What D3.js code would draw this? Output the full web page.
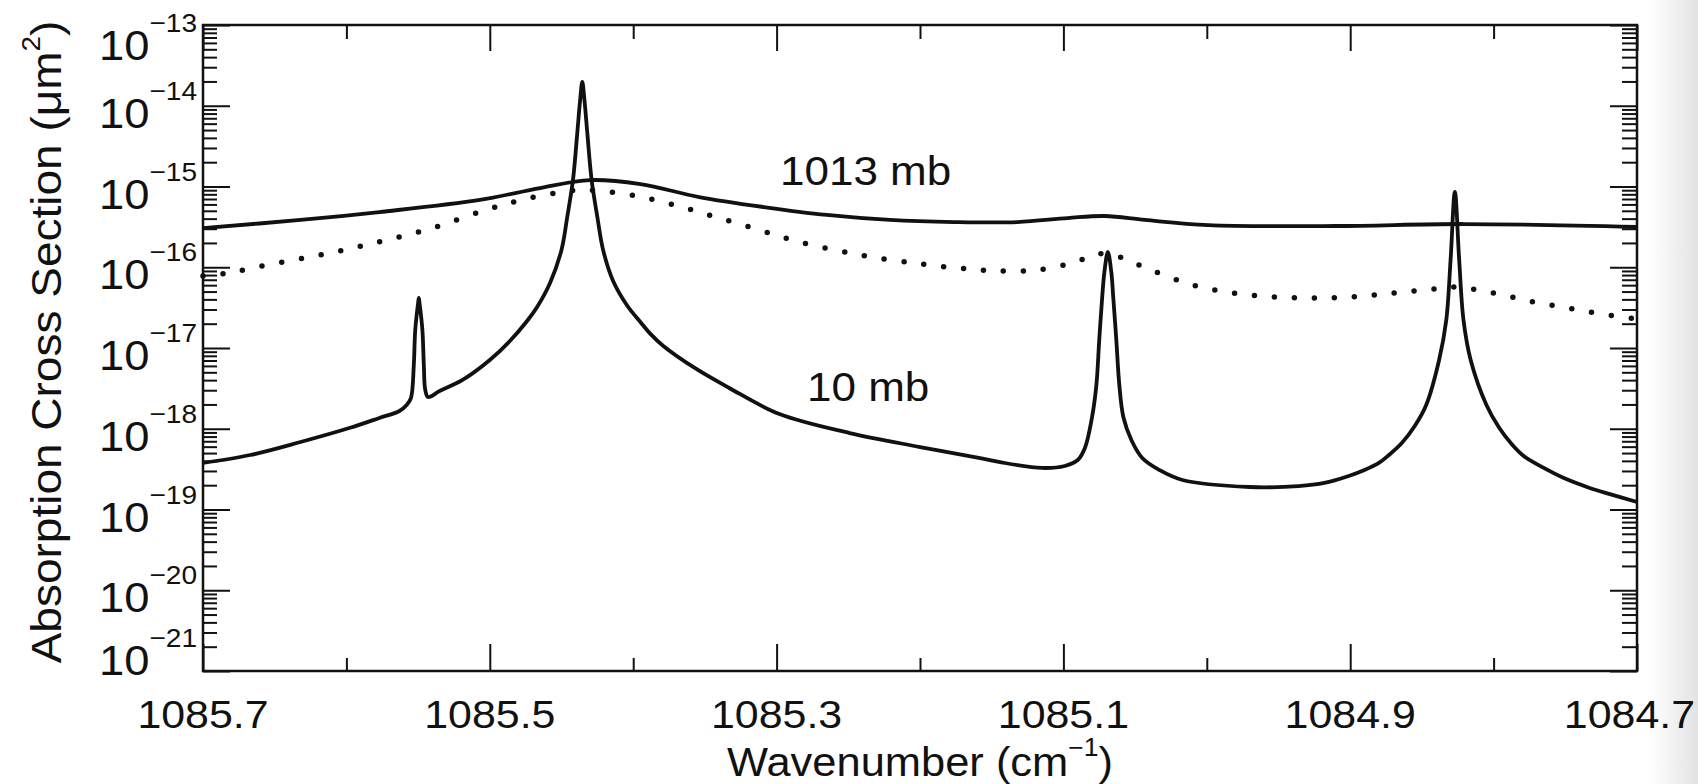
<!DOCTYPE html>
<html>
<head>
<meta charset="utf-8">
<script src="https://cdn.jsdelivr.net/npm/d3@7"></script>
<style>
  body { margin: 0; background: #fff; }
  text { font-family: "Liberation Sans", Arial, Helvetica, sans-serif; fill: #111; }
</style>
</head>
<body>
<svg id="chart" width="1698" height="784"></svg>
<script>
// axis ticks
const xMajorTicks = [1085.7, 1085.5, 1085.3, 1085.1, 1084.9, 1084.7];
const xMinorTicks = [1085.6, 1085.4, 1085.2, 1085.0, 1084.8];
const yExponents = [-13, -14, -15, -16, -17, -18, -19, -20, -21];

// 10 mb (narrow lines)
const wn10mb = [1085.700, 1085.667, 1085.632, 1085.598, 1085.577, 1085.563, 1085.558, 1085.555,
  1085.553, 1085.552, 1085.550, 1085.5495, 1085.549, 1085.547, 1085.546, 1085.545, 1085.543,
  1085.535, 1085.519, 1085.500, 1085.486, 1085.474, 1085.467, 1085.458, 1085.450, 1085.446,
  1085.442, 1085.439, 1085.437, 1085.4355, 1085.434, 1085.432, 1085.429, 1085.425, 1085.421,
  1085.414, 1085.404, 1085.395, 1085.3885, 1085.379, 1085.356, 1085.333, 1085.298, 1085.249,
  1085.200, 1085.159, 1085.145, 1085.115, 1085.099, 1085.090, 1085.085, 1085.080, 1085.077,
  1085.075, 1085.073, 1085.0714, 1085.069, 1085.0666, 1085.0652, 1085.0631, 1085.061, 1085.0582,
  1085.0526, 1085.045, 1085.033, 1085.017, 1084.970, 1084.936, 1084.918, 1084.901, 1084.890,
  1084.880, 1084.873, 1084.864, 1084.855, 1084.847, 1084.838, 1084.833, 1084.830, 1084.827,
  1084.824, 1084.821, 1084.816, 1084.805, 1084.796, 1084.788, 1084.779, 1084.765, 1084.751,
  1084.733, 1084.7195, 1084.700];
const sigma10mb = [3.77e-19, 4.73e-19, 6.85e-19, 1.02e-18, 1.36e-18, 1.66e-18, 1.97e-18, 2.40e-18,
  6.15e-18, 1.67e-17, 3.61e-17, 4.16e-17, 3.61e-17, 1.67e-17, 6.15e-18, 3.02e-18, 2.47e-18,
  2.93e-18, 4.02e-18, 7.10e-18, 1.22e-17, 2.16e-17, 3.22e-17, 6.38e-17, 1.64e-16, 4.19e-16,
  1.20e-15, 4.60e-15, 1.18e-14, 1.97e-14, 1.18e-14, 4.60e-15, 1.20e-15, 4.19e-16, 1.64e-16,
  6.76e-17, 3.31e-17, 2.10e-17, 1.53e-17, 1.06e-17, 5.50e-18, 3.20e-18, 1.52e-18, 8.85e-19,
  5.94e-19, 4.35e-19, 3.88e-19, 3.27e-19, 3.46e-19, 4.10e-19, 5.78e-19, 1.40e-18, 3.48e-18,
  1.26e-17, 4.16e-17, 8.73e-17, 1.55e-16, 8.73e-17, 4.16e-17, 1.26e-17, 3.48e-18, 1.40e-18,
  7.26e-19, 4.35e-19, 3.08e-19, 2.32e-19, 1.90e-19, 1.95e-19, 2.13e-19, 2.60e-19, 3.08e-19,
  3.77e-19, 4.73e-19, 6.66e-19, 1.08e-18, 1.97e-18, 7.10e-18, 2.22e-17, 1.23e-16, 8.55e-16,
  1.23e-16, 2.22e-17, 7.10e-18, 1.97e-18, 1.02e-18, 6.66e-19, 4.60e-19, 3.27e-19, 2.45e-19,
  1.85e-19, 1.56e-19, 1.24e-19];

// 1013 mb (broad lines)
const wn1013mb = [1085.700, 1085.632, 1085.577, 1085.507, 1085.465, 1085.430, 1085.395, 1085.354,
  1085.309, 1085.265, 1085.221, 1085.176, 1085.132, 1085.097, 1085.071, 1085.043, 1084.999,
  1084.910, 1084.821, 1084.700];
const sigma1013mb = [3.06e-16, 3.85e-16, 4.83e-16, 6.81e-16, 9.58e-16, 1.20e-15, 1.07e-15, 7.41e-16,
  5.57e-16, 4.44e-16, 3.85e-16, 3.63e-16, 3.63e-16, 4.07e-16, 4.31e-16, 3.85e-16, 3.33e-16,
  3.24e-16, 3.43e-16, 3.15e-16];

// intermediate pressure (dotted, unlabeled)
const wnDotted = [1085.700, 1085.683, 1085.655, 1085.615, 1085.577, 1085.540, 1085.505, 1085.478,
  1085.450, 1085.436, 1085.422, 1085.394, 1085.366, 1085.340, 1085.312, 1085.284, 1085.242,
  1085.200, 1085.166, 1085.145, 1085.118, 1085.090, 1085.077, 1085.063, 1085.051, 1085.037,
  1085.010, 1084.982, 1084.954, 1084.926, 1084.899, 1084.870, 1084.842, 1084.828, 1084.800,
  1084.772, 1084.744, 1084.716, 1084.700];
const sigmaDotted = [7.80e-17, 8.49e-17, 1.07e-16, 1.46e-16, 2.06e-16, 3.06e-16, 4.98e-16, 6.81e-16,
  8.55e-16, 9.06e-16, 8.79e-16, 7.41e-16, 5.57e-16, 4.07e-16, 2.89e-16, 2.06e-16, 1.42e-16,
  1.10e-16, 9.51e-17, 8.99e-17, 9.25e-17, 1.19e-16, 1.46e-16, 1.38e-16, 1.13e-16, 8.99e-17,
  6.03e-17, 4.80e-17, 4.28e-17, 4.16e-17, 4.28e-17, 4.80e-17, 5.38e-17, 5.69e-17, 4.80e-17,
  3.72e-17, 3.04e-17, 2.49e-17, 2.29e-17];

const W = 1698, H = 784;
const margin = {left: 203, right: 61, top: 25, bottom: 113};

const svg = d3.select("#chart");

// light grey edge of the scanned page
const grad = svg.append("defs").append("linearGradient").attr("id", "edge");
grad.append("stop").attr("offset", "0%").attr("stop-color", "#ffffff");
grad.append("stop").attr("offset", "100%").attr("stop-color", "#e3e3e3");
svg.append("rect").attr("x", 1650).attr("y", 0).attr("width", 48).attr("height", H)
   .attr("fill", "url(#edge)");

const x = d3.scaleLinear()
            .domain([1085.7, 1084.7])
            .range([margin.left, W - margin.right]);
const y = d3.scaleLog()
            .domain([1e-21, 1e-13])
            .range([H - margin.bottom, margin.top]);

let yMinor = [];
for (let e = -21; e < -13; e++) {
    for (let m = 2; m <= 9; m++) yMinor.push(m * Math.pow(10, e));
}
const yMajor = yExponents.map(e => Math.pow(10, e));

function drawAxis(axis, tx, ty) {
    let g = svg.append("g")
               .attr("transform", "translate(" + tx + "," + ty + ")")
               .call(axis.tickFormat("").tickSizeOuter(0));
    g.select(".domain").remove();
    g.selectAll(".tick line").attr("stroke", "#111").attr("stroke-width", 2);
}
const x0 = margin.left, x1 = W - margin.right, y0 = margin.top, y1 = H - margin.bottom;

// ticks point inwards on all four sides
drawAxis(d3.axisBottom(x).tickValues(xMajorTicks).tickSize(-27), 0, y1);
drawAxis(d3.axisBottom(x).tickValues(xMinorTicks).tickSize(-13), 0, y1);
drawAxis(d3.axisTop(x).tickValues(xMajorTicks).tickSize(-26), 0, y0);
drawAxis(d3.axisTop(x).tickValues(xMinorTicks).tickSize(-14), 0, y0);
drawAxis(d3.axisLeft(y).tickValues(yMajor).tickSize(-27), x0, 0);
drawAxis(d3.axisLeft(y).tickValues(yMinor).tickSize(-14), x0, 0);
drawAxis(d3.axisRight(y).tickValues(yMajor).tickSize(-27), x1, 0);
drawAxis(d3.axisRight(y).tickValues(yMinor).tickSize(-15), x1, 0);

svg.append("rect")
   .attr("x", x0).attr("y", y0)
   .attr("width", x1 - x0).attr("height", y1 - y0)
   .attr("fill", "none").attr("stroke", "#111").attr("stroke-width", 2.5);

// curves
const line = d3.line()
               .x(d => x(d[0]))
               .y(d => y(d[1]))
               .curve(d3.curveCatmullRom.alpha(0.5));

function series(wn, sig) { return wn.map((w, i) => [w, sig[i]]); }

svg.append("path")
   .datum(series(wnDotted, sigmaDotted))
   .attr("d", line)
   .attr("fill", "none").attr("stroke", "#111")
   .attr("stroke-width", 5.5).attr("stroke-linecap", "round")
   .attr("stroke-dasharray", "0 20");

svg.append("path")
   .datum(series(wn1013mb, sigma1013mb))
   .attr("d", line)
   .attr("fill", "none").attr("stroke", "#111").attr("stroke-width", 3.8);

svg.append("path")
   .datum(series(wn10mb, sigma10mb))
   .attr("d", line)
   .attr("fill", "none").attr("stroke", "#111").attr("stroke-width", 3.8)
   .attr("stroke-linejoin", "round");

// text helper; the printed Helvetica is a bit wide, so stretch it
function addText(tx, ty, size, anchor, stretch, rotate) {
    let g = svg.append("g")
               .attr("transform", "translate(" + tx + "," + ty + ")" +
                     (rotate ? " rotate(" + rotate + ")" : "") +
                     " scale(" + stretch + ",1)");
    return g.append("text")
            .attr("text-anchor", anchor)
            .attr("font-size", size);
}

// x tick labels (the last one is kept inside the page)
xMajorTicks.forEach((v, i) => {
    let last = i === xMajorTicks.length - 1;
    addText(last ? 1695 : x(v), 728, 39, last ? "end" : "middle", 1.1)
        .text(d3.format(".1f")(v));
});

// y tick labels 10^n
yExponents.forEach((e, i) => {
    let ty = y(Math.pow(10, e));
    let base = ty + 22;
    if (i === 0) base = ty + 35;
    if (i === yExponents.length - 1) base = ty + 4;
    let t = addText(197, base, 42, "end", 1.08);
    t.append("tspan").text("10");
    t.append("tspan").attr("font-size", 26).attr("dy", -28).text("\u2212" + Math.abs(e));
});

// axis titles
let xt = addText((x0 + x1) / 2, 776, 41, "middle", 1.06);
xt.append("tspan").text("Wavenumber (cm");
xt.append("tspan").attr("font-size", 25).attr("dy", -20).text("\u22121");
xt.append("tspan").attr("dy", 20).text(")");

let yt = addText(61, (y0 + y1) / 2 - 6, 43, "middle", 1.07, -90);
yt.append("tspan").text("Absorption Cross Section (\u03bcm");
yt.append("tspan").attr("font-size", 26).attr("dy", -21).text("2");
yt.append("tspan").attr("dy", 21).text(")");

// curve labels
addText(780, 185, 40, "start", 1.1).text("1013 mb");
addText(807, 401, 40, "start", 1.1).text("10 mb");
</script>
</body>
</html>
